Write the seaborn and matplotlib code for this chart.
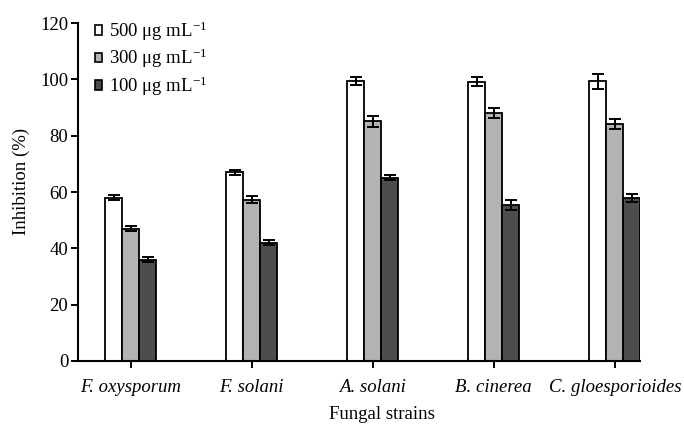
import matplotlib
matplotlib.use("Agg")
import matplotlib.pyplot as plt
import seaborn as sns
import pandas as pd
import numpy as np

strains = ["F. oxysporum", "F. solani", "A. solani", "B. cinerea", "C. gloesporioides"]
doses = ["500 μg mL$^{-1}$", "300 μg mL$^{-1}$", "100 μg mL$^{-1}$"]
inh_500 = [58.0, 67.0, 99.4, 99.2, 99.3]
inh_300 = [47.0, 57.3, 85.1, 88.0, 84.2]
inh_100 = [36.0, 42.0, 65.0, 55.5, 58.0]
err_500 = [0.8, 0.8, 1.3, 1.7, 2.6]
err_300 = [1.0, 1.2, 1.9, 1.7, 1.8]
err_100 = [0.9, 0.9, 0.9, 1.8, 1.4]
colors = ["#ffffff", "#b3b3b3", "#4d4d4d"]

sns.set_style("ticks", {"text.color": "black", "axes.labelcolor": "black",
                        "axes.edgecolor": "black", "xtick.color": "black", "ytick.color": "black"})
plt.rcParams["font.family"] = ["Liberation Serif", "DejaVu Serif"]
plt.rcParams["mathtext.fontset"] = "custom"
plt.rcParams["mathtext.rm"] = "Liberation Serif"
plt.rcParams["mathtext.it"] = "Liberation Serif:italic"

FS = 13.5

rows = []
for vals, errs, d in [(inh_500, err_500, doses[0]), (inh_300, err_300, doses[1]), (inh_100, err_100, doses[2])]:
    for s, v, e in zip(strains, vals, errs):
        rows.append({"strain": s, "dose": d, "inh": v, "err": e})
df = pd.DataFrame(rows)

fig = plt.figure(figsize=(6.84, 4.24), dpi=100)
ax = fig.add_axes([0.114, 0.1486, 0.822, 0.797])
sns.barplot(data=df, x="strain", y="inh", hue="dose", hue_order=doses, order=strains,
            palette=colors, width=0.42, edgecolor="black", linewidth=1.3,
            errorbar=None, ax=ax, saturation=1)

for cont, d in zip(ax.containers, doses):
    sub = df[df["dose"] == d].set_index("strain").loc[strains]
    xs = [p.get_x() + p.get_width() / 2 for p in cont.patches]
    ax.errorbar(xs, sub["inh"].values, yerr=sub["err"].values, fmt="none",
                ecolor="black", elinewidth=1.4, capsize=4, capthick=1.4, zorder=5)

ax.set_ylim(0, 120)
ax.set_yticks(np.arange(0, 121, 20))
ax.set_xlim(-0.435, 4.21)
ax.set_xticks(range(len(strains)))
ax.set_xticklabels(strains, fontstyle="italic")
ax.tick_params(axis="both", labelsize=FS, width=1.4, length=5, direction="out", colors="black")
ax.tick_params(axis="x", pad=8)
ax.tick_params(axis="y", pad=2)
for sp in ["left", "bottom"]:
    ax.spines[sp].set_linewidth(1.5)
    ax.spines[sp].set_color("black")
sns.despine(ax=ax)

ax.set_ylabel("Inhibition (%)", fontsize=FS, color="black")
ax.set_xlabel("Fungal strains", fontsize=FS, color="black")
ax.xaxis.set_label_coords((382 - 78) / 562, -0.133)
ax.yaxis.set_label_coords(-0.085, 0.53)

leg = ax.legend(loc="upper left", bbox_to_anchor=(0.01, 1.045), frameon=False,
                fontsize=FS, handlelength=0.4, handleheight=0.4, handletextpad=0.35,
                labelspacing=0.22, borderaxespad=0.2, labelcolor="black")
for h in leg.legend_handles:
    h.set_edgecolor("black")
    h.set_linewidth(1.2)

fig.savefig("out.png", dpi=100)
